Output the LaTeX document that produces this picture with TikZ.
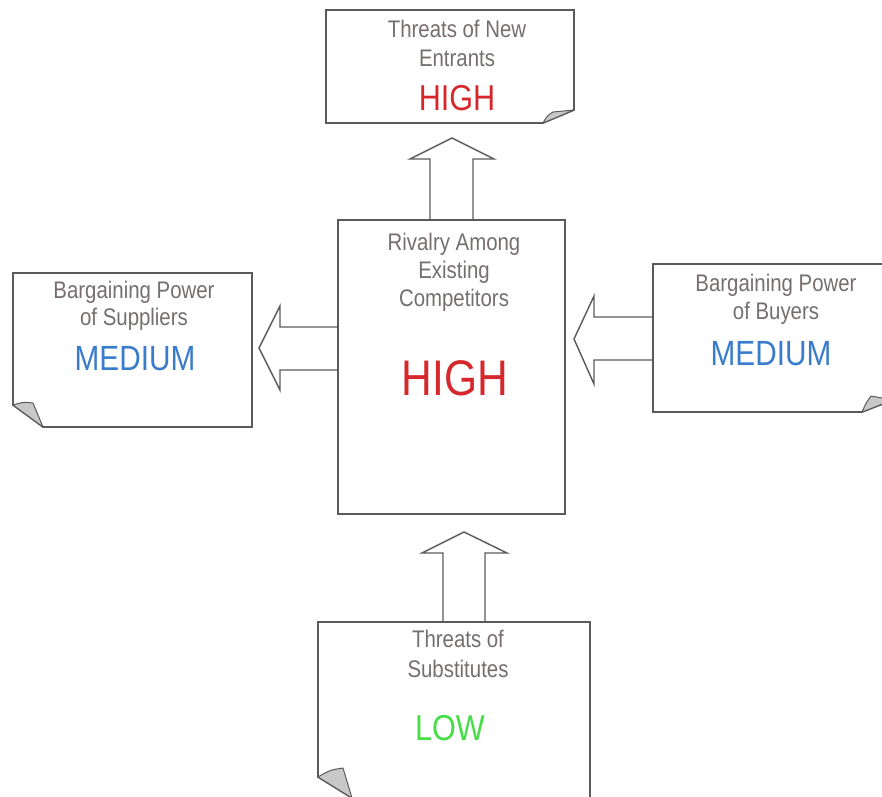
\documentclass[tikz,border=0pt]{standalone}
\usepackage{fontspec}
\setmainfont{Liberation Sans}[FakeStretch=0.85]
\usetikzlibrary{calc}
\definecolor{txtgray}{RGB}{118,110,110}
\definecolor{valred}{RGB}{214,40,44}
\definecolor{valblue}{RGB}{58,124,204}
\definecolor{valgreen}{RGB}{70,222,70}
\definecolor{boxgray}{RGB}{90,90,90}
\definecolor{curlgray}{RGB}{200,200,200}
\begin{document}
\begin{tikzpicture}[x=1pt,y=-1pt,
  area/.style={draw=none,inner sep=0pt,outer sep=0pt},
  box/.style={draw=boxgray,line width=1.7pt,line join=miter},
  curl/.style={draw=boxgray,fill=curlgray,line width=1pt,line join=round},
  blockarrow/.style={draw=boxgray,line width=1.4pt,line join=miter},
  lbl/.style={anchor=base,inner sep=0pt,text=txtgray,font=\fontsize{24}{28}\selectfont},
  val/.style={anchor=base,inner sep=0pt}]
\useasboundingbox (0,0) rectangle (882,796);
\clip (0,0) rectangle (882,796);

% box areas
\node[area,minimum width=248pt,minimum height=113pt] (newent) at (450,66.5) {};
\node[area,minimum width=227pt,minimum height=294pt] (rival) at (451.5,367) {};
\node[area,minimum width=239pt,minimum height=154pt] (supp) at (132.5,350) {};
\node[area,minimum width=240pt,minimum height=148pt] (buy) at (773,338) {};
\node[area,minimum width=272pt,minimum height=176pt] (subst) at (454,710) {};

% top box with curl at bottom right
\draw[box] (newent.north west) -- (newent.north east) -- ($(newent.south east)+(0,-13)$)
  -- ($(newent.south east)+(-31,0)$) -- (newent.south west) -- cycle;
\draw[curl] ($(newent.south east)+(-31,0)$) .. controls ($(newent.south east)+(-27,-7)$) .. ($(newent.south east)+(-21,-11)$)
  -- ($(newent.south east)+(0,-13)$) -- cycle;

% centre box
\draw[box] (rival.north west) rectangle (rival.south east);

% left box with curl at bottom left
\draw[box] (supp.north west) -- (supp.north east) -- (supp.south east)
  -- ($(supp.south west)+(30,0)$) -- ($(supp.south west)+(0,-22)$) -- cycle;
\draw[curl] ($(supp.south west)+(0,-22)$) .. controls ($(supp.south west)+(10,-25)$) .. ($(supp.south west)+(20,-24)$)
  -- ($(supp.south west)+(30,0)$) -- cycle;

% right box with curl at bottom right
\draw[box] (buy.north west) -- (buy.north east) -- ($(buy.south east)+(0,-12)$)
  -- ($(buy.south east)+(-31,0)$) -- (buy.south west) -- cycle;
\draw[curl] ($(buy.south east)+(-31,0)$) .. controls ($(buy.south east)+(-27,-9)$) .. ($(buy.south east)+(-22,-16)$)
  -- ($(buy.south east)+(0,-12)$) -- cycle;

% bottom box with curl at bottom left
\draw[box] (subst.north west) -- (subst.north east) -- (subst.south east)
  -- ($(subst.south west)+(34,0)$) -- ($(subst.south west)+(0,-21)$) -- cycle;
\draw[curl] ($(subst.south west)+(0,-21)$) .. controls ($(subst.south west)+(12,-28)$) .. ($(subst.south west)+(25,-30)$)
  -- ($(subst.south west)+(34,0)$) -- cycle;

% block arrows
\coordinate (upTip) at (452,138);
\draw[blockarrow] (430,220) -- (430,159) -- (410,159) -- (upTip) -- (494,159) -- (473,159) -- (473,220);
\coordinate (subTip) at (464,532);
\draw[blockarrow] (443,622) -- (443,553) -- (422,553) -- (subTip) -- (507,553) -- (485,553) -- (485,622);
\coordinate (leftTip) at (259,348);
\draw[blockarrow] (338,327) -- (280,327) -- (280,306) -- (leftTip) -- (280,390) -- (280,370) -- (338,370);
\coordinate (rightTip) at (574,339);
\draw[blockarrow] (653,317) -- (594,317) -- (594,296) -- (rightTip) -- (594,384) -- (594,360) -- (653,360);

% texts
\node[lbl] (newentA) at (457,37) {Threats of New};
\node[lbl] (newentB) at (457,66) {Entrants};
\node[val,text=valred,font=\fontsize{36}{40}\selectfont] (newentV) at (457,110) {HIGH};

\node[lbl] (rivalA) at (454,250) {Rivalry Among};
\node[lbl] (rivalB) at (454,278) {Existing};
\node[lbl] (rivalC) at (454,306) {Competitors};
\node[val,text=valred,font=\fontsize{50}{54}\selectfont] (rivalV) at (455,395) {HIGH};

\node[lbl] (suppA) at (134,298) {Bargaining Power};
\node[lbl] (suppB) at (134,325) {of Suppliers};
\node[val,text=valblue,font=\fontsize{35}{40}\selectfont] (suppV) at (135,370) {MEDIUM};

\node[lbl] (buyA) at (776,291) {Bargaining Power};
\node[lbl] (buyB) at (776,319) {of Buyers};
\node[val,text=valblue,font=\fontsize{35}{40}\selectfont] (buyV) at (771,365) {MEDIUM};

\node[lbl] (substA) at (458,647) {Threats of};
\node[lbl] (substB) at (458,677) {Substitutes};
\node[val,text=valgreen,font=\fontsize{36}{40}\selectfont] (substV) at (450,740) {LOW};
\end{tikzpicture}
\end{document}
